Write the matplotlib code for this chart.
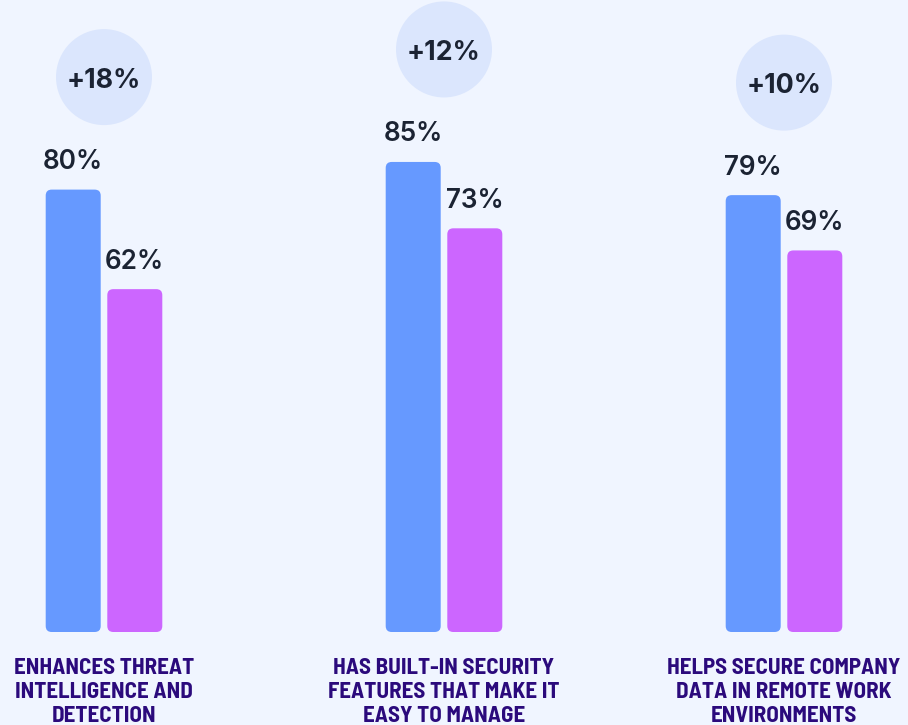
import matplotlib
matplotlib.use("Agg")
import matplotlib.pyplot as plt
from matplotlib.patches import FancyBboxPatch

categories = ["ENHANCES THREAT\nINTELLIGENCE AND\nDETECTION",
              "HAS BUILT-IN SECURITY\nFEATURES THAT MAKE IT\nEASY TO MANAGE",
              "HELPS SECURE COMPANY\nDATA IN REMOTE WORK\nENVIRONMENTS"]
series_a = [80, 85, 79]
series_b = [62, 73, 69]
diff_labels = ["+18%", "+12%", "+10%"]

BG = "#f0f5ff"
BLUE = "#6699ff"
PURPLE = "#cc66ff"
CIRCLE = "#dbe6fd"
TXT = "#1b2333"
LAB = "#2b0a7c"

W, H = 908, 725
fig = plt.figure(figsize=(W / 100, H / 100), dpi=100, facecolor=BG)
base_px = 632
px_per_unit = 5.53
grp_px = 340.0
ax = fig.add_axes([0, (H - base_px) / H, 1, base_px / H])
ax.set_facecolor(BG)
ax.set_ylim(0, base_px / px_per_unit)
x0 = 104.0
ax.set_xlim(-x0 / grp_px, (W - x0) / grp_px)
ax.axis("off")

bw = 55 / grp_px
off = 30.8 / grp_px
r = 6 / grp_px
asp = (6 / px_per_unit) / r
NUMF = ["Inter", "DejaVu Sans"]

for i in range(len(categories)):
    for val, dx, col in ((series_a[i], -off, BLUE), (series_b[i], off, PURPLE)):
        p = FancyBboxPatch((i + dx - bw / 2, 0), bw, val,
                           boxstyle=f"round,pad=0,rounding_size={r}",
                           mutation_aspect=asp, facecolor=col, edgecolor="none")
        ax.add_patch(p)
        ax.text(i + dx, val + 20.5 / px_per_unit, f"{val}%", ha="center", va="baseline",
                fontsize=18.8, fontweight=600, family=NUMF, color=TXT)
    top = max(series_a[i], series_b[i])
    cy = top + 112.5 / px_per_unit
    ax.scatter([i], [cy], s=(96 * 0.72) ** 2, color=CIRCLE, edgecolors="none", zorder=1, clip_on=False)
    ax.text(i, cy - 10.5 / px_per_unit, diff_labels[i], ha="center", va="baseline",
            fontsize=19.3, fontweight=700, family=NUMF, color=TXT, zorder=2)
    ax.text(i, -(721.5 - base_px) / px_per_unit, categories[i], ha="center", va="baseline",
            fontsize=16.5, fontweight=700, family=["Barlow Semi Condensed", "DejaVu Sans"],
            color=LAB, linespacing=1.22, clip_on=False)

fig.savefig("out.png", dpi=100, facecolor=BG)
